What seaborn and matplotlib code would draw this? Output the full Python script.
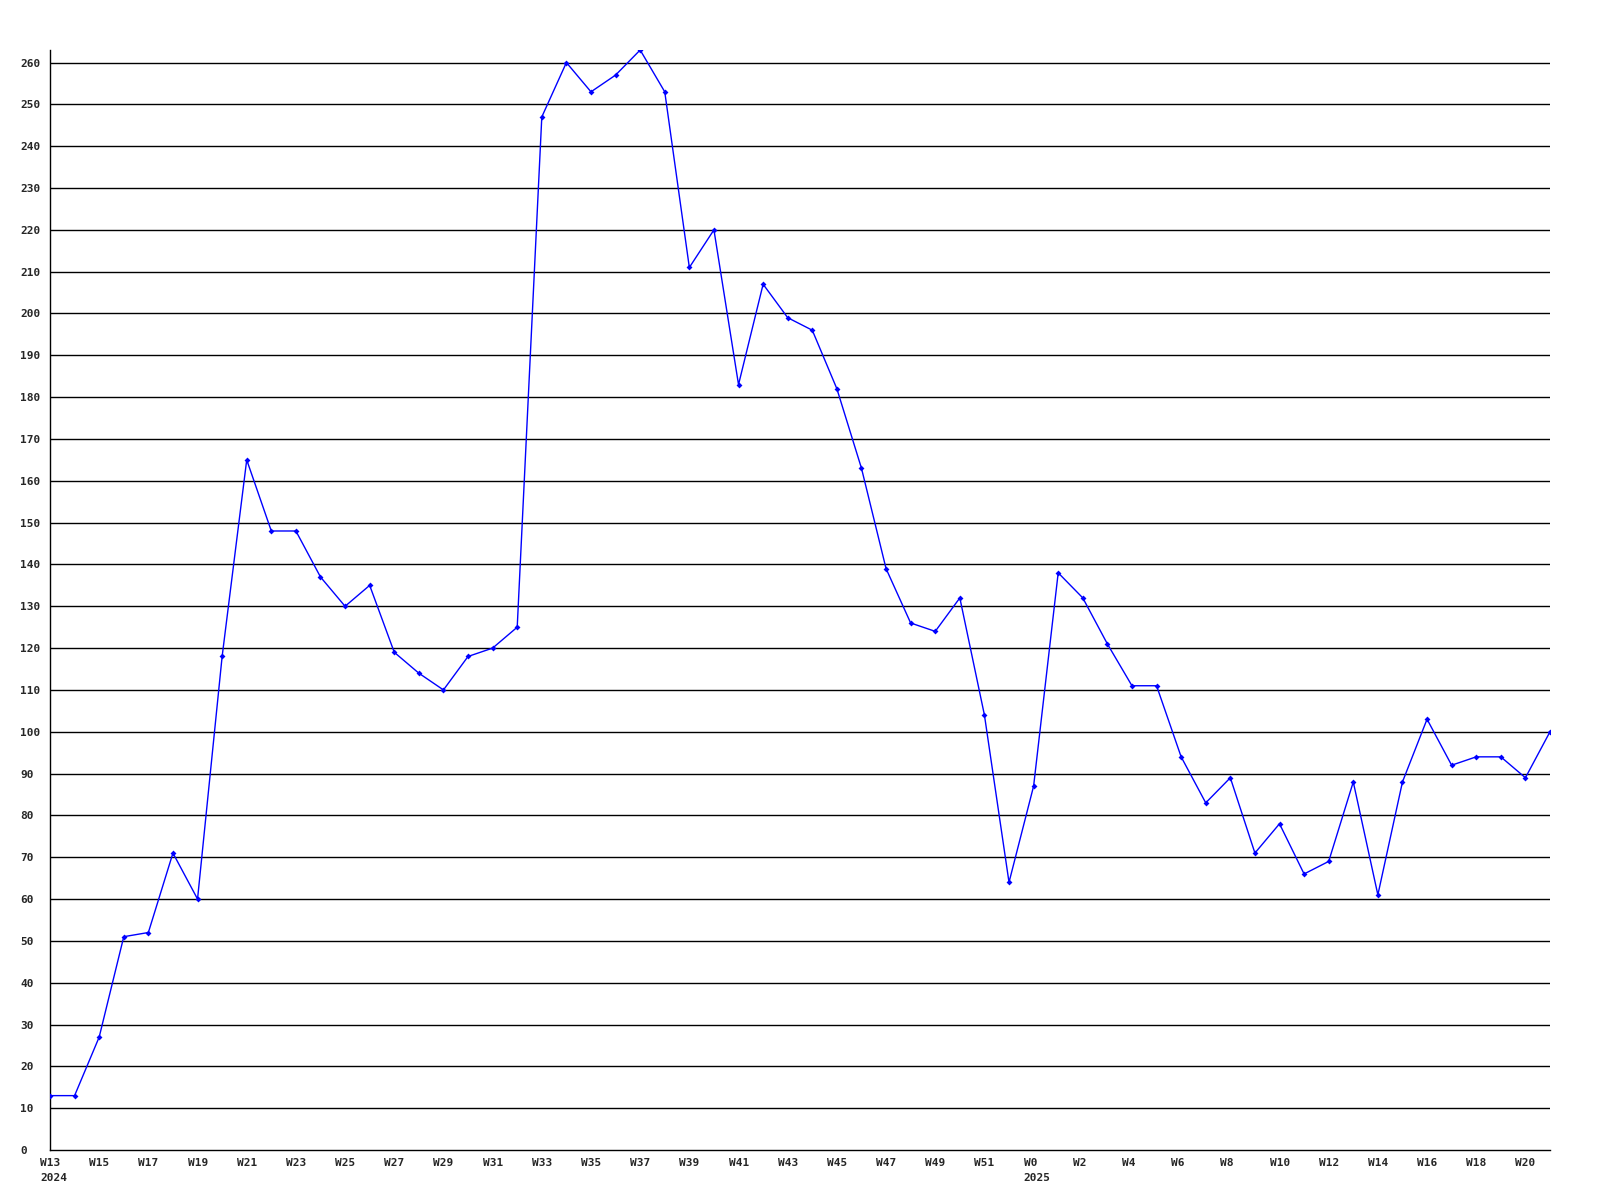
import matplotlib
matplotlib.use("Agg")
import matplotlib.pyplot as plt
import matplotlib.transforms as mtransforms
import seaborn as sns
import numpy as np
import pandas as pd

# weekly values, W13 2024 .. W21 2025
weeks_2024 = [f"W{i}" for i in range(13, 53)]
weeks_2025 = [f"W{i}" for i in range(0, 22)]
weeks = weeks_2024 + weeks_2025

values = [13, 13, 27, 51, 52, 71, 60, 118, 165, 148,
          148, 137, 130, 135, 119, 114, 110, 118, 120, 125,
          247, 260, 253, 257, 263, 253, 211, 220, 183, 207,
          199, 196, 182, 163, 139, 126, 124, 132, 104, 64,
          87, 138, 132, 121, 111, 111, 94, 83, 89, 71,
          78, 66, 69, 88, 61, 88, 103, 92, 94, 94,
          89, 100]

y_ticks = list(range(0, 261, 10))

sns.set_style("white")
plt.rcParams['font.family'] = ['DejaVu Sans Mono']
plt.rcParams['font.weight'] = 'bold'

df = pd.DataFrame({"idx": np.arange(len(values)), "value": values})

fig = plt.figure(figsize=(16, 12), dpi=100)
ax = fig.add_axes([50 / 1600, 50 / 1200, 1500 / 1600, 1100 / 1200])

for t in y_ticks[1:]:
    ax.axhline(t, color="black", lw=1.0, zorder=1)

sns.lineplot(data=df, x="idx", y="value", ax=ax, color="#0000ff", lw=1,
             marker="D", markersize=3, markeredgewidth=0, zorder=3)

ax.set_xlim(0, len(values) - 1)
ax.set_ylim(0, 263)

# week labels every two weeks, left aligned a little before the point
tick_idx = list(range(0, len(values), 2))
ax.set_xticks(tick_idx)
ax.set_xticklabels([])
offset = mtransforms.ScaledTranslation(-10 / 100, -8 / 100, fig.dpi_scale_trans)
trans = ax.get_xaxis_transform() + offset
for i in tick_idx:
    lab = weeks[i]
    if i == 0:
        lab += "\n2024"
    elif weeks[i] == "W0":
        lab += "\n2025"
    ax.text(i, 0, lab, transform=trans, ha="left", va="top", fontsize=8,
            fontweight="bold", linespacing=1.6, clip_on=False)

ax.set_yticks(y_ticks)
ax.set_yticklabels([str(v) for v in y_ticks], fontsize=8, fontweight="bold",
                   ha="left")
ax.tick_params(axis="y", length=0, pad=21.6)
ax.tick_params(axis="x", length=0)

ax.set_xlabel("")
ax.set_ylabel("")
for s in ["top", "right"]:
    ax.spines[s].set_visible(False)
for s in ["left", "bottom"]:
    ax.spines[s].set_color("black")
    ax.spines[s].set_linewidth(1.0)
ax.grid(False)

fig.savefig("out.png", dpi=100, facecolor="white")
